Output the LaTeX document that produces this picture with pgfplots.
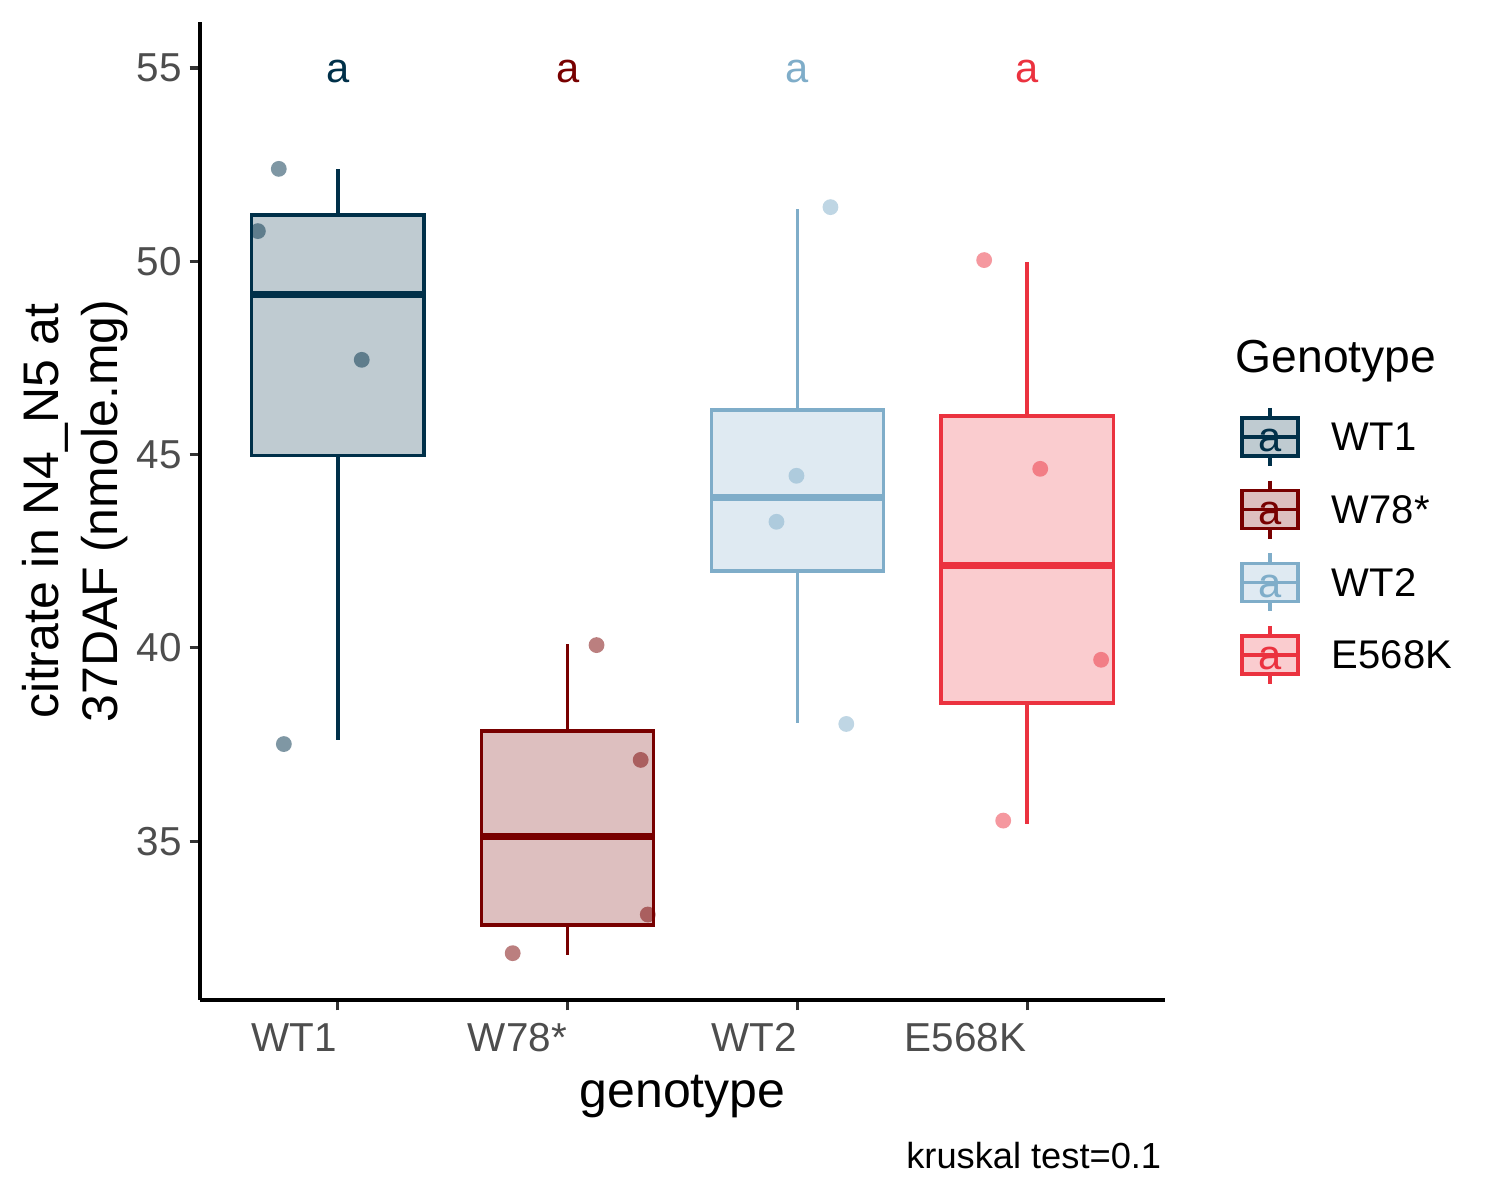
\documentclass[border=0pt]{standalone}
\usepackage{fontspec}
\setmainfont{Liberation Sans}
\usepackage{pgfplots}
\pgfplotsset{compat=1.18}
\definecolor{cWT1}{RGB}{0,48,73}
\definecolor{cW78}{RGB}{120,0,0}
\definecolor{cWT2}{RGB}{127,173,201}
\definecolor{cE5}{RGB}{235,50,63}
\definecolor{ticktext}{RGB}{77,77,77}
\definecolor{tickline}{RGB}{51,51,51}
\begin{document}
\begin{tikzpicture}
\path[use as bounding box] (0,0) rectangle (360pt,288pt);
\begin{axis}[
  at={(48pt,48pt)}, anchor=south west,
  scale only axis, width=231.6pt, height=234.72pt,
  xmin=0.4, xmax=4.6, ymin=30.89, ymax=56.19,
  axis x line*=bottom, axis y line*=left,
  axis line style={black, line width=0.75pt, -},
  xtick={1,2,3,4}, xticklabels={WT1,W78*,WT2,E568K},
  ytick={35,40,45,50,55},
  tick align=outside, major tick length=2.5pt,
  tick style={tickline, line width=0.75pt},
  /pgf/number format/assume math mode=true,
  ticklabel style={font=\fontsize{9.7}{11}\selectfont, text=ticktext, inner sep=0pt},
  xticklabel style={anchor=north east, yshift=-2.9pt},
  yticklabel style={anchor=east, xshift=-1.7pt},
  xlabel={genotype},
  xlabel style={at={(axis description cs:0.5,-0.1104)}, anchor=base, font=\fontsize{12}{14}\selectfont, inner sep=0pt},
  ylabel={citrate in N4\_N5 at\\37DAF (nmole.mg)},
  ylabel style={at={(axis description cs:-0.129,0.5)}, anchor=center, align=center, font=\fontsize{12}{14.16}\selectfont, inner sep=0pt},
  clip=false,
  boxline/.style={line width=0.8pt, line join=miter},
]
% ---- WT1: whiskers 37.62 / 52.39, box 44.98 - 51.20, median 49.15
\addplot[cWT1, boxline] coordinates {(1,37.62) (1,44.98)};
\addplot[cWT1, boxline] coordinates {(1,51.20) (1,52.39)};
\addplot[draw=cWT1, fill=cWT1!25, boxline] coordinates {(0.625,44.98) (1.375,44.98) (1.375,51.20) (0.625,51.20)} -- cycle;
\addplot[cWT1, line width=1.7pt] coordinates {(0.625,49.15) (1.375,49.15)};
% ---- W78*: whiskers 32.06 / 40.10, box 32.83 - 37.85, median 35.11
\addplot[cW78, boxline] coordinates {(2,32.06) (2,32.83)};
\addplot[cW78, boxline] coordinates {(2,37.85) (2,40.10)};
\addplot[draw=cW78, fill=cW78!25, boxline] coordinates {(1.625,32.83) (2.375,32.83) (2.375,37.85) (1.625,37.85)} -- cycle;
\addplot[cW78, line width=1.7pt] coordinates {(1.625,35.11) (2.375,35.11)};
% ---- WT2: whiskers 38.06 / 51.35, box 41.99 - 46.15, median 43.88
\addplot[cWT2, boxline] coordinates {(3,38.06) (3,41.99)};
\addplot[cWT2, boxline] coordinates {(3,46.15) (3,51.35)};
\addplot[draw=cWT2, fill=cWT2!25, boxline] coordinates {(2.625,41.99) (3.375,41.99) (3.375,46.15) (2.625,46.15)} -- cycle;
\addplot[cWT2, line width=1.7pt] coordinates {(2.625,43.88) (3.375,43.88)};
% ---- E568K: whiskers 35.45 / 49.98, box 38.57 - 46.00, median 42.14
\addplot[cE5, boxline] coordinates {(4,35.45) (4,38.57)};
\addplot[cE5, boxline] coordinates {(4,46.00) (4,49.98)};
\addplot[draw=cE5, fill=cE5!25, boxline] coordinates {(3.625,38.57) (4.375,38.57) (4.375,46.00) (3.625,46.00)} -- cycle;
\addplot[cE5, line width=1.7pt] coordinates {(3.625,42.14) (4.375,42.14)};
% ---- jittered points
\addplot[only marks, mark=*, mark size=1.9pt, mark options={fill=cWT1, draw opacity=0, fill opacity=0.5}] coordinates {(0.743,52.39) (0.652,50.78) (1.104,47.45) (0.765,37.51)};
\addplot[only marks, mark=*, mark size=1.9pt, mark options={fill=cW78, draw opacity=0, fill opacity=0.5}] coordinates {(2.126,40.07) (2.318,37.10) (2.349,33.10) (1.761,32.10)};
\addplot[only marks, mark=*, mark size=1.9pt, mark options={fill=cWT2, draw opacity=0, fill opacity=0.5}] coordinates {(3.144,51.40) (2.996,44.45) (2.909,43.26) (3.213,38.03)};
\addplot[only marks, mark=*, mark size=1.9pt, mark options={fill=cE5, draw opacity=0, fill opacity=0.5}] coordinates {(3.813,50.03) (4.057,44.63) (4.322,39.69) (3.896,35.53)};
% ---- letters
\node[text=cWT1, font=\fontsize{10}{12}\selectfont, inner sep=0pt] at (axis cs:1,54.9) {a};
\node[text=cW78, font=\fontsize{10}{12}\selectfont, inner sep=0pt] at (axis cs:2,54.9) {a};
\node[text=cWT2, font=\fontsize{10}{12}\selectfont, inner sep=0pt] at (axis cs:3,54.9) {a};
\node[text=cE5, font=\fontsize{10}{12}\selectfont, inner sep=0pt] at (axis cs:4,54.9) {a};
\end{axis}
\begin{scope}[x=0.24pt, y=-0.24pt, yshift=288pt]
\node[anchor=base west, inner sep=0pt, font=\fontsize{11.1}{13}\selectfont] at (1235,373) {Genotype};
\foreach \c/\lab [count=\i from 0] in {cWT1/WT1, cW78/W78*, cWT2/WT2, cE5/E568K} {
  \pgfmathsetmacro{\cy}{437+\i*72.67}
  \draw[\c, line width=0.8pt, fill=\c!25] (1242,\cy-19) rectangle (1298,\cy+19);
  \draw[\c, line width=0.8pt] (1270,\cy-29) -- (1270,\cy-19) (1270,\cy+19) -- (1270,\cy+29) (1242,\cy) -- (1298,\cy);
  \node[text=\c, font=\fontsize{10}{12}\selectfont, inner sep=0pt] at (1270,\cy+4) {a};
  \node[anchor=west, inner sep=0pt, font=\fontsize{9.6}{11}\selectfont] at (1331,\cy) {\lab};
}
\node[anchor=base east, inner sep=0pt, font=\fontsize{8.7}{10}\selectfont] at (1162,1169) {kruskal test=0.1};
\end{scope}
\end{tikzpicture}
\end{document}
